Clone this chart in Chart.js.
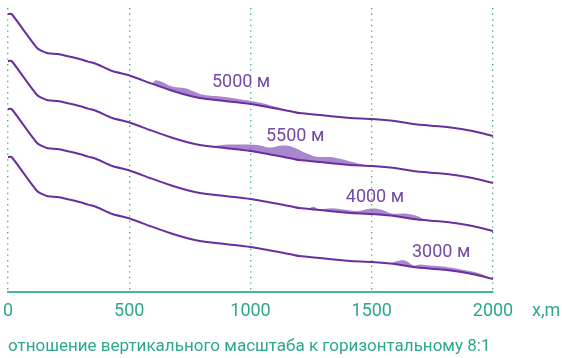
<!DOCTYPE html>
<html>
<head>
<meta charset="utf-8">
<script src="https://cdn.jsdelivr.net/npm/chart.js@4/dist/chart.umd.min.js"></script>
<style>
  html, body { margin: 0; padding: 0; background: #ffffff; }
  #wrap { width: 562px; height: 358px; }
</style>
</head>
<body>
<div id="wrap"><canvas id="chart" width="562" height="358"></canvas></div>
<script>
// Distance along the profile, metres
const distance = [0, 15, 120, 160, 205, 295, 330, 365, 430, 495, 530, 585, 680, 790, 1000, 1160, 1200, 1325, 1410, 1500, 1595, 1670, 1760, 1810, 1915, 2000];

// Four surface profiles, stacked one above another (relative height, m)
const profile1 = [139, 139, 122, 119.5, 119, 116.5, 115.2, 114, 110.5, 108.5, 107, 104.5, 100.5, 97, 94, 90.5, 89.5, 88, 87, 86.5, 85.5, 84, 83, 82.5, 80.5, 78];
const profile2 = [115.5, 115.5, 98.5, 96, 95.5, 93, 91.7, 90.5, 87, 85, 83.5, 81, 77, 73.5, 70.5, 67, 66, 64.5, 63.5, 63, 62, 60.5, 59.5, 59, 57, 54.5];
const profile3 = [91.5, 91.5, 74.5, 72, 71.5, 69, 67.7, 66.5, 63, 61, 59.5, 57, 53, 49.5, 46.5, 43, 42, 40.5, 39.5, 39, 38, 36.5, 35.5, 35, 33, 30.5];
const profile4 = [67.5, 67.5, 50.5, 48, 47.5, 45, 43.7, 42.5, 39, 37, 35.5, 33, 29, 25.5, 22.5, 19, 18, 16.5, 15.5, 15, 14, 12.5, 11.5, 11, 9, 6.5];

// Deposit tops lying on each profile
const depositX1 = [593, 613, 682, 730, 764, 805, 888, 957, 998, 1070, 1167];
const depositY1 = [104.2, 105.9, 102.6, 101.9, 100.4, 98.6, 97.6, 96.4, 95.6, 93.8, 90.3];
const depositX2 = [845, 874, 957, 1039, 1080, 1134, 1175, 1233, 1274, 1328, 1369, 1439, 1493];
const depositY2 = [72.7, 73.4, 73.7, 73.3, 72.2, 73.2, 72.4, 69.2, 67.6, 67.5, 66.6, 64.4, 63.0];
const depositX3 = [1238, 1259, 1280, 1335, 1390, 1431, 1459, 1500, 1541, 1582, 1637, 1692, 1720];
const depositY3 = [41.5, 42.6, 41.5, 41.9, 41.1, 40.5, 40.8, 41.7, 41.1, 39.3, 39.2, 37.8, 35.9];
const depositX4 = [1575, 1603, 1630, 1651, 1672, 1699, 1740, 1809, 1892, 1946, 1988];
const depositY4 = [14.2, 15.4, 15.9, 14.9, 13.3, 13.8, 13.2, 12.5, 10.7, 9.2, 6.85];

// Tick labels and texts
const xTicks = [0, 500, 1000, 1500, 2000];
const profileLabels = ['5000 м', '5500 м', '4000 м', '3000 м'];
const axisUnit = 'x,m';
const caption = 'отношение вертикального масштаба к горизонтальному 8:1';

const LINE = '#6a2f9e';
const FILL = 'rgba(128, 78, 180, 0.68)';
const TEAL = '#2ea78c';
const GRID = '#45b59c';
const TEXT_PURPLE = '#7448a6';
const FONT = 'Roboto, "Noto Sans", sans-serif';

const pts = (xs, ys) => xs.map((x, i) => ({ x, y: ys[i] }));

const profiles = [profile1, profile2, profile3, profile4];
const deposits = [[depositX1, depositY1], [depositX2, depositY2], [depositX3, depositY3], [depositX4, depositY4]];

const datasets = [];
profiles.forEach(p => {
  datasets.push({
    data: pts(distance, p),
    borderColor: LINE,
    borderWidth: 2,
    pointRadius: 0,
    tension: 0.2,
    fill: false,
    order: 0
  });
});
deposits.forEach(([xs, ys], i) => {
  datasets.push({
    data: pts(xs, ys),
    borderWidth: 0,
    borderColor: 'rgba(0,0,0,0)',
    backgroundColor: FILL,
    pointRadius: 0,
    tension: 0.4,
    fill: i,
    order: 1
  });
});

// Label anchors in data units (distance, height)
const labelAt = [[961, 105], [1184, 78], [1513, 47.5], [1786, 20]];

const textPlugin = {
  id: 'texts',
  afterDatasetsDraw(chart) {
    const { ctx, scales: { x, y } } = chart;
    ctx.save();
    ctx.font = '18px ' + FONT;
    ctx.fillStyle = TEXT_PURPLE;
    ctx.textAlign = 'center';
    ctx.textBaseline = 'middle';
    profileLabels.forEach((t, i) => {
      ctx.fillText(t, x.getPixelForValue(labelAt[i][0]), y.getPixelForValue(labelAt[i][1]));
    });
    ctx.fillStyle = TEAL;
    ctx.textAlign = 'left';
    ctx.textBaseline = 'middle';
    ctx.font = '18px ' + FONT;
    ctx.fillText(axisUnit, 532, 311);
    ctx.font = '17px ' + FONT;
    ctx.fillText(caption, 8, 347);
    ctx.restore();
  }
};

new Chart(document.getElementById('chart'), {
  type: 'line',
  data: { datasets },
  plugins: [textPlugin],
  options: {
    responsive: false,
    animation: false,
    events: [],
    layout: { padding: { left: 8, right: 69, top: 8, bottom: 0 } },
    plugins: { legend: { display: false }, tooltip: { enabled: false } },
    scales: {
      x: {
        type: 'linear',
        min: 0,
        max: 2000,
        afterFit(scale) {
          scale.height = 66;
          scale.paddingLeft = 0;
          scale.paddingRight = 0;
        },
        afterBuildTicks(scale) { scale.ticks = xTicks.map(v => ({ value: v })); },
        ticks: {
          color: TEAL,
          font: { family: FONT, size: 18 },
          padding: 9,
          maxRotation: 0,
          callback: v => String(v)
        },
        grid: { color: GRID, lineWidth: 1.4, drawTicks: false },
        border: { display: true, color: GRID, width: 2, dash: [1.4, 4.2] }
      },
      y: {
        display: false,
        min: 0,
        max: 142
      }
    }
  }
});
</script>
</body>
</html>
